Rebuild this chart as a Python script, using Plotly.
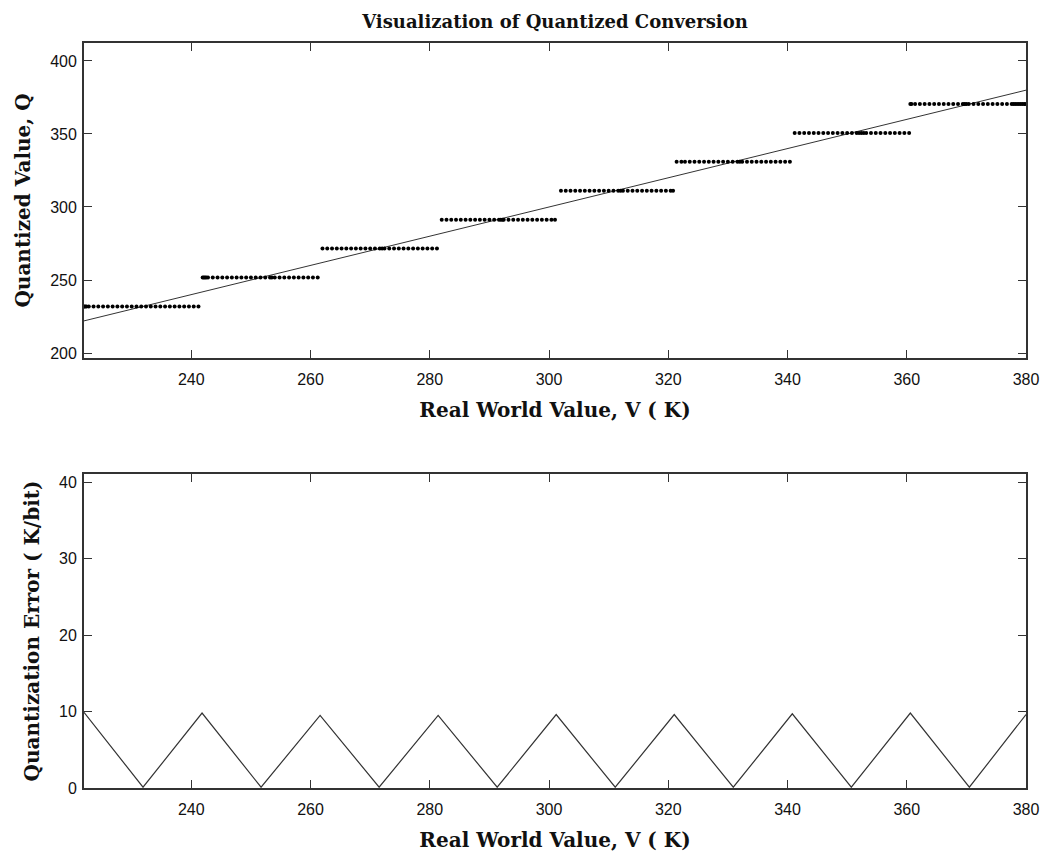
import numpy as np
import plotly.graph_objects as go
from plotly.subplots import make_subplots

# Quantization levels (Q)
q_levels = [231.9, 251.7, 271.5, 291.3, 311.1, 330.9, 350.7, 370.5]

# Sampled real-world values V (K)
v_samples = [
    222.0, 222.2, 222.4, 222.8, 223.6, 224.4, 225.2, 226.0, 226.8, 227.6, 228.4, 229.2,
    230.0, 230.8, 231.6, 232.4, 233.2, 234.0, 234.8, 235.6, 236.4, 237.2,
    238.0, 238.8, 239.6, 240.4, 241.2, 241.9, 242.1, 242.3, 242.5, 242.8, 243.6, 244.4, 245.2,
    246.0, 246.8, 247.6, 248.4, 249.2, 250.0, 250.8, 251.6, 252.4, 253.2, 253.5,
    254.0, 254.8, 255.6, 256.4, 257.2, 258.0, 258.8, 259.6, 260.4, 261.2,
    262.0, 262.8, 263.6, 264.4, 265.2, 266.0, 266.8, 267.6, 268.4, 269.2,
    270.0, 270.8, 271.6, 272.0, 272.4, 273.2, 274.0, 274.8, 275.6, 276.4, 277.2,
    278.0, 278.8, 279.6, 280.4, 281.2,
    282.0, 282.8, 283.6, 284.4, 285.2,
    286.0, 286.8, 287.6, 288.4, 289.2, 290.0, 290.8, 291.6, 291.9, 292.2, 292.4, 293.2,
    294.0, 294.8, 295.6, 296.4, 297.2, 298.0, 298.8, 299.6, 300.4, 301.0,
    302.0, 302.8, 303.6, 304.4, 305.2, 306.0, 306.8, 307.6, 308.4, 309.2,
    310.0, 310.8, 311.6, 312.0, 312.4, 313.2, 314.0, 314.8, 315.6, 316.4, 317.2,
    318.0, 318.8, 319.6, 320.4, 320.8,
    321.4, 322.2, 322.8, 323.6, 324.4, 325.2, 326.0, 326.8, 327.6, 328.4, 329.2,
    330.0, 330.8, 331.6, 332.0, 332.4, 333.2, 334.0, 334.8, 335.6, 336.4, 337.2,
    338.0, 338.8, 339.6, 340.4,
    341.2, 342.0, 342.8, 343.6, 344.4, 345.2, 346.0, 346.8, 347.6, 348.4, 349.2,
    350.0, 350.8, 351.6, 352.0, 352.4, 352.8, 353.2, 354.0, 354.8, 355.6, 356.4, 357.2,
    358.0, 358.8, 359.6, 360.4, 360.6,
    360.8, 361.4, 362.2, 363.0, 363.8, 364.6, 365.4, 366.2, 367.0, 367.8, 368.6,
    369.4, 369.7, 370.0, 370.4, 371.2, 372.0, 372.8, 373.6, 374.4, 375.2, 376.0,
    376.8, 377.6, 377.9, 378.2, 378.5, 378.8, 379.1, 379.4, 379.7, 380.0,
]

# Quantization error curve vertices
err_v = [222.0, 231.9, 241.8, 251.7, 261.6, 271.5, 281.4, 291.3, 301.2,
         311.1, 321.0, 330.9, 340.8, 350.7, 360.6, 370.5, 380.0]
err_e = [9.9, 0.1, 9.8, 0.1, 9.5, 0.1, 9.5, 0.1, 9.6,
         0.1, 9.6, 0.1, 9.7, 0.1, 9.8, 0.1, 9.6]

# Ideal line Q = V
ideal_v = [222.0, 380.0]

x_ticks = [240, 260, 280, 300, 320, 340, 360, 380]
q_ticks = [200, 250, 300, 350, 400]
e_ticks = [0, 10, 20, 30, 40]

lv = np.array(q_levels)
v = np.array(v_samples)
q = lv[np.argmin(np.abs(v[:, None] - lv[None, :]), axis=1)]

fig = make_subplots(rows=2, cols=1, vertical_spacing=0.1)

fig.add_trace(go.Scatter(x=ideal_v, y=ideal_v, mode="lines",
                         line=dict(color="#333333", width=1), showlegend=False),
              row=1, col=1)
fig.add_trace(go.Scatter(x=v, y=q, mode="markers",
                         marker=dict(color="black", size=4), showlegend=False),
              row=1, col=1)
fig.add_trace(go.Scatter(x=err_v, y=err_e, mode="lines",
                         line=dict(color="#333333", width=1.2), showlegend=False),
              row=2, col=1)

serif = "DejaVu Serif"
sans = "Liberation Sans"
lab_font = dict(family=serif, size=20, color="#111111", weight="bold")
axis_common = dict(showline=True, linecolor="#333333", linewidth=1.8, mirror="ticks",
                   ticks="inside", ticklen=8, tickwidth=1.2, tickcolor="#333333",
                   showgrid=False, zeroline=False,
                   tickfont=dict(family=sans, size=16, color="#111111"))

fig.update_layout(
    width=1060, height=858,
    plot_bgcolor="white", paper_bgcolor="white",
    margin=dict(l=76, r=42, t=35, b=78),
    title=dict(text="Visualization of Quantized Conversion", x=0.5, xref="paper",
               xanchor="center", y=0.984, yref="container", yanchor="middle",
               pad=dict(t=0, b=0),
               font=dict(family=serif, size=18, color="#111111", weight="bold")),
    xaxis=dict(domain=[0, 1], range=[222, 380], tickvals=x_ticks, ticklabelstandoff=6,
               title=dict(text="Real World Value, V ( K)", standoff=16, font=lab_font),
               **axis_common),
    yaxis=dict(domain=[0.5772, 1], range=[196.6, 412.3], tickvals=q_ticks, ticklabelstandoff=2,
               title=dict(text="Quantized Value, Q", standoff=14, font=lab_font),
               **axis_common),
    xaxis2=dict(domain=[0, 1], range=[222, 380], tickvals=x_ticks, ticklabelstandoff=6,
                title=dict(text="Real World Value, V ( K)", standoff=16, font=lab_font),
                **axis_common),
    yaxis2=dict(domain=[0, 0.4215], range=[0, 41.05], tickvals=e_ticks, ticklabelstandoff=2,
                title=dict(text="Quantization Error ( K/bit)", standoff=14, font=lab_font),
                **axis_common),
)

fig.write_html("out.html")
